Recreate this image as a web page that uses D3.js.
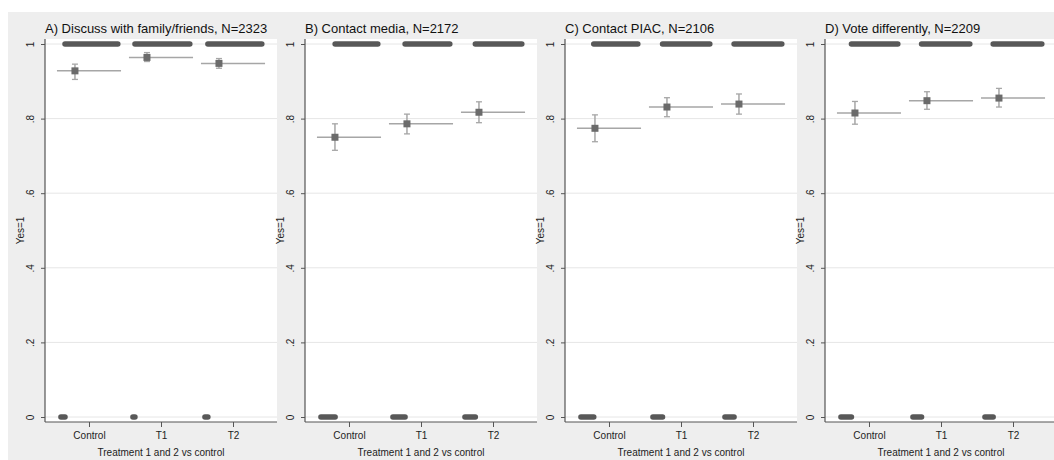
<!DOCTYPE html>
<html>
<head>
<meta charset="utf-8">
<script src="https://cdn.jsdelivr.net/npm/d3@7"></script>
<style>
  body { margin: 0; background: #fff; }
  text { font-family: "Liberation Sans", Arial, sans-serif; }
</style>
</head>
<body>
<div id="chart"></div>
<script>
// panel titles and groups
let titles = [
    "A) Discuss with family/friends, N=2323",
    "B) Contact media, N=2172",
    "C) Contact PIAC, N=2106",
    "D) Vote differently, N=2209"
];
let groups = ["Control", "T1", "T2"];

// share answering yes (mean) and 95% CI per panel, per group
let means  = [[0.928, 0.964, 0.948], [0.750, 0.786, 0.817], [0.774, 0.831, 0.839], [0.815, 0.848, 0.855]];
let ciLow  = [[0.905, 0.953, 0.935], [0.715, 0.759, 0.789], [0.738, 0.805, 0.812], [0.785, 0.825, 0.831]];
let ciHigh = [[0.946, 0.977, 0.961], [0.786, 0.812, 0.845], [0.810, 0.856, 0.866], [0.846, 0.872, 0.881]];

let yTicks = [0, 0.2, 0.4, 0.6, 0.8, 1];
let yTickLabels = ["0", ".2", ".4", ".6", ".8", "1"];
let yTitle = "Yes=1";
let xTitle = "Treatment 1 and 2 vs control";

let width = 1054, height = 460;
let panelStep = 260;
let plotW = 232, plotTop = 39, plotBottom = 422;

let svg = d3.select("#chart").append("svg")
    .attr("width", width)
    .attr("height", height);

svg.append("rect").attr("width", width).attr("height", height).attr("fill", "#fff");
svg.append("rect")
    .attr("x", 8).attr("y", 12)
    .attr("width", width - 8).attr("height", height - 12)
    .attr("fill", "#eeeeee");

let x = d3.scaleLinear().domain([-0.611, 2.611]).range([0, plotW]);
let y = d3.scaleLinear().domain([0, 1]).range([plotBottom - 5, plotTop + 5]);

titles.forEach((title, p) => {
    let left = 45 + p * panelStep;
    let g = svg.append("g").attr("transform", `translate(${left},0)`);

    g.append("rect")
        .attr("x", 0).attr("y", plotTop)
        .attr("width", plotW).attr("height", plotBottom - plotTop)
        .attr("fill", "#fff");

    // gridlines
    g.selectAll(".grid").data(yTicks).enter().append("line")
        .attr("x1", 0).attr("x2", plotW)
        .attr("y1", d => y(d)).attr("y2", d => y(d))
        .attr("stroke", "#e6e6e6").attr("stroke-width", 1);

    // y axis
    let yAxis = d3.axisLeft(y).tickValues(yTicks)
        .tickFormat((d, i) => yTickLabels[i]).tickSize(4).tickSizeOuter(0);
    let ya = g.append("g").call(yAxis);
    ya.select(".domain").remove();
    ya.selectAll(".tick line").attr("stroke", "#555");
    ya.selectAll(".tick text")
        .attr("x", 0).attr("dy", 0)
        .attr("transform", "translate(-11,0) rotate(-90)")
        .attr("text-anchor", "middle")
        .attr("font-size", 10).attr("fill", "#222");
    g.append("line")
        .attr("x1", 0).attr("x2", 0)
        .attr("y1", plotTop).attr("y2", plotBottom)
        .attr("stroke", "#555").attr("stroke-width", 1.2);

    // x axis
    let xAxis = d3.axisBottom(x).tickValues([0, 1, 2])
        .tickFormat((d) => groups[d]).tickSize(5).tickSizeOuter(0);
    let xa = g.append("g").attr("transform", `translate(0,${plotBottom})`).call(xAxis);
    xa.select(".domain").remove();
    xa.selectAll(".tick line").attr("stroke", "#555");
    xa.selectAll(".tick text").attr("font-size", 10).attr("fill", "#222").attr("dy", "0.9em");
    g.append("line")
        .attr("x1", 0).attr("x2", plotW)
        .attr("y1", plotBottom).attr("y2", plotBottom)
        .attr("stroke", "#555").attr("stroke-width", 1.2);

    // stacked responses: zeros on the left of each spread, ones after
    groups.forEach((grp, i) => {
        let x0 = i - 0.39, x1 = i + 0.40;
        let split = x0 + (1 - means[p][i]) * (x1 - x0);
        g.append("line")
            .attr("x1", x(x0)).attr("x2", x(split))
            .attr("y1", y(0)).attr("y2", y(0))
            .attr("stroke", "#585858").attr("stroke-width", 5.5)
            .attr("stroke-linecap", "round");
        g.append("line")
            .attr("x1", x(split)).attr("x2", x(x1))
            .attr("y1", y(1)).attr("y2", y(1))
            .attr("stroke", "#585858").attr("stroke-width", 5.5)
            .attr("stroke-linecap", "round");
    });

    // mean lines
    g.selectAll(".mean").data(means[p]).enter().append("line")
        .attr("x1", (d, i) => x(i - 0.445)).attr("x2", (d, i) => x(i + 0.445))
        .attr("y1", d => y(d)).attr("y2", d => y(d))
        .attr("stroke", "#a6a6a6").attr("stroke-width", 1.5);

    // confidence intervals
    let off = -0.195;
    let capW = 3;
    groups.forEach((grp, i) => {
        let cx = x(i + off);
        let lo = y(ciLow[p][i]), hi = y(ciHigh[p][i]);
        g.append("line").attr("x1", cx).attr("x2", cx).attr("y1", lo).attr("y2", hi)
            .attr("stroke", "#a6a6a6").attr("stroke-width", 1.5);
        [lo, hi].forEach(v => {
            g.append("line").attr("x1", cx - capW).attr("x2", cx + capW).attr("y1", v).attr("y2", v)
                .attr("stroke", "#a6a6a6").attr("stroke-width", 1.3);
        });
    });

    // mean markers
    g.selectAll(".marker").data(means[p]).enter().append("rect")
        .attr("x", (d, i) => x(i + off) - 3.5)
        .attr("y", d => y(d) - 3.5)
        .attr("width", 7).attr("height", 7)
        .attr("fill", "#6b6b6b");

    // titles
    g.append("text")
        .attr("x", 0).attr("y", 33)
        .attr("font-size", 13).attr("fill", "#111")
        .text(title);
    g.append("text")
        .attr("transform", `translate(-21,${(plotTop + plotBottom) / 2}) rotate(-90)`)
        .attr("text-anchor", "middle")
        .attr("font-size", 10).attr("fill", "#222")
        .text(yTitle);
    g.append("text")
        .attr("x", plotW / 2).attr("y", 456)
        .attr("text-anchor", "middle")
        .attr("font-size", 10).attr("fill", "#222")
        .text(xTitle);
});
</script>
</body>
</html>
